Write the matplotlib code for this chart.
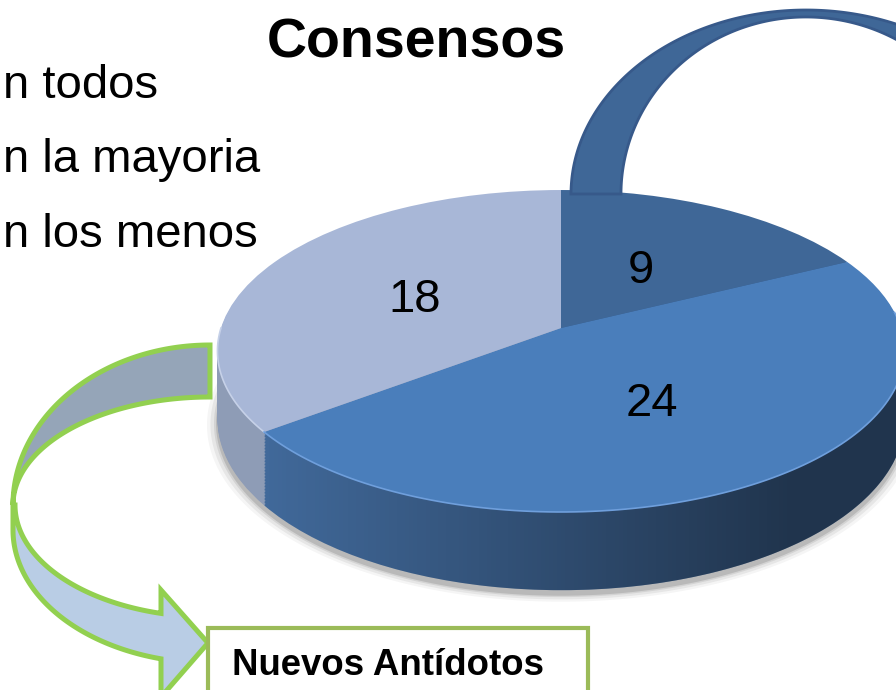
import numpy as np
import matplotlib
matplotlib.use("Agg")
import matplotlib.pyplot as plt
from matplotlib.patches import Polygon, Rectangle
from matplotlib.transforms import Transform

plt.rcParams['font.family'] = ['Liberation Sans', 'DejaVu Sans']

# ---------------- data ----------------
values = [9, 24, 18]
value_labels = ["9", "24", "18"]
top_colors = ["#3f6797", "#4a7ebb", "#a8b7d7"]
side_colors = ["#2f4f78", "#41699a", "#8e9cb6"]
title = "Consensos"
bullets = ["n todos", "n la mayoria", "n los menos"]
box_text = "Nuevos Antídotos"

# ---------------- layout ----------------
W, H = 896, 690
# perspective pie geometry (pixels, y downwards)
CX, CY0, A, B, K, D = 561, 328, 340, 157.7, 0.1429, 67


class PerspectivePie(Transform):
    """Maps unit-disk pie coordinates to tilted-disk pixel coordinates."""
    input_dims = 2
    output_dims = 2
    is_separable = False
    has_inverse = False

    def __init__(self, dz=0.0, scale=1.0):
        super().__init__()
        self.dz = dz
        self.scale = scale

    def transform_non_affine(self, values):
        values = np.asarray(values, dtype=float)
        u = values[..., 0] * self.scale
        v = values[..., 1] * self.scale
        den = 1 + K * v
        X = CX + A * u / den
        Y = CY0 - B * v / den + self.dz / den
        return np.stack([X, Y], axis=-1)


fig = plt.figure(figsize=(W / 100, H / 100), dpi=100)
pax = fig.add_axes([0, 0, 1, 1])
pax.set_zorder(1)

# soft shadow under the pie
tt = np.linspace(0, 2 * np.pi, 400)
circ = np.column_stack([np.cos(tt), np.sin(tt)])
for s, a in [(1.03, 0.04), (1.02, 0.06), (1.01, 0.08), (1.004, 0.12)]:
    pts = PerspectivePie(D + 4, s).transform_non_affine(circ)
    pax.add_patch(Polygon(pts, closed=True, facecolor="black", edgecolor="none",
                          alpha=a, zorder=1, transform=pax.transData))

# side of the pie: stacked pies pushed downwards
N = 50
for k in range(N, 0, -1):
    wedges, _ = pax.pie(values, colors=side_colors, startangle=90, counterclock=False,
                        radius=1, wedgeprops=dict(linewidth=0))
    tr = PerspectivePie(D * k / N) + pax.transData
    for w in wedges:
        w.set_transform(tr)
        w.set_zorder(2)

# gradient darkening across the side wall
t = np.linspace(np.pi, 2 * np.pi, 300)
rim = np.column_stack([np.cos(t), np.sin(t)])
top_rim = PerspectivePie(0).transform_non_affine(rim)
bot_rim = PerspectivePie(D).transform_non_affine(rim)
band = np.vstack([top_rim, bot_rim[::-1]])
band_poly = Polygon(band, closed=True, transform=pax.transData)
xs = np.linspace(0, W, 600)
alpha = np.clip((xs - 265) / (790 - 265), 0, 1) * 0.5
grad = np.zeros((1, xs.size, 4))
grad[..., 3] = alpha
im = pax.imshow(grad, extent=[0, W, H, 0], aspect='auto', zorder=3,
                interpolation='bilinear')
im.set_clip_path(band_poly)

# top face
wedges, _ = pax.pie(values, colors=top_colors, startangle=90, counterclock=False,
                    radius=1, wedgeprops=dict(linewidth=0))
for w in wedges:
    w.set_transform(PerspectivePie(0) + pax.transData)
    w.set_zorder(4)

# bevel highlight along the front rim
bnd = np.deg2rad(90 - 360 * (values[0] + values[1]) / sum(values) + 360)
for t0, t1, col in [(np.pi, bnd, "#c6d1e8"), (bnd, 2 * np.pi + 0.1, "#6f9fdc")]:
    tl = np.linspace(t0, t1, 120)
    p = PerspectivePie(0).transform_non_affine(np.column_stack([np.cos(tl), np.sin(tl)]))
    pax.plot(p[:, 0], p[:, 1], color=col, lw=1.2, zorder=5)

pax.set_aspect('auto')
pax.set_xlim(0, W)
pax.set_ylim(H, 0)
pax.axis('off')

# overlay axes in pixel coordinates
ax = fig.add_axes([0, 0, 1, 1])
ax.set_zorder(2)
ax.set_xlim(0, W)
ax.set_ylim(H, 0)
ax.axis('off')
ax.patch.set_alpha(0)

# blue curved arrow (top right)
ocx, ocy, orx, ory = 806, 194, 235, 184
icx, icy, irx, iry = 806, 194, 185, 177
to = np.linspace(np.pi, np.deg2rad(60), 150)
ti = np.linspace(np.deg2rad(55), np.pi, 150)
outer = np.column_stack([ocx + orx * np.cos(to), ocy - ory * np.sin(to)])
inner = np.column_stack([icx + irx * np.cos(ti), icy - iry * np.sin(ti)])
ax.add_patch(Polygon(np.vstack([outer, inner]), closed=True, facecolor="#3f6797",
                     edgecolor="#37598a", lw=2, zorder=3))

# green curved arrow (left)
gcx, gcy = 210, 505
t_up_o = np.linspace(np.pi / 2, np.pi, 120)
t_up_i = np.linspace(np.pi, np.pi / 2, 120)
up_outer = np.column_stack([gcx + 197 * np.cos(t_up_o), gcy - 160 * np.sin(t_up_o)])
up_inner = np.column_stack([gcx + 197 * np.cos(t_up_i), gcy - 108 * np.sin(t_up_i)])
ax.add_patch(Polygon(np.vstack([up_outer, up_inner]), closed=True, facecolor="#95a5b8",
                     edgecolor="#92d050", lw=3.6, joinstyle='miter', zorder=3))

end_o = np.arccos((161 - gcx) / 197)
t_lo_o = np.linspace(np.pi, end_o, 120)
lo_outer = np.column_stack([gcx + 197 * np.cos(t_lo_o), 530 + 133 * np.sin(t_lo_o)])
end_i = np.arccos((161 - gcx) / 195)
t_lo_i = np.linspace(end_i, np.pi, 120)
lo_inner = np.column_stack([gcx + 195 * np.cos(t_lo_i), gcy + 112 * np.sin(t_lo_i)])
head = np.array([[161, 697], [208, 643], [161, 590]])
lower = np.vstack([[[13, 505]], lo_outer, head, lo_inner])
ax.add_patch(Polygon(lower, closed=True, facecolor="#b9cde5", edgecolor="#92d050",
                     lw=3.6, joinstyle='miter', zorder=3))

# box
ax.add_patch(Rectangle((208, 628), 380, 80, facecolor="white", edgecolor="#9bbb59",
                       lw=3, zorder=4))
ax.text(232, 675, box_text, fontsize=26.4, fontweight='bold', ha='left', va='baseline',
        zorder=5)

# title and bullets
ax.text(416, 58, title, fontsize=40, fontweight='bold', ha='center', va='baseline')
for txt, yb in zip(bullets, [98, 172, 247]):
    ax.text(3, yb, txt, fontsize=34, ha='left', va='baseline')

# value labels
for txt, (lx, ly) in zip(value_labels, [(641, 283), (652, 416), (415, 312)]):
    ax.text(lx, ly, txt, fontsize=34, ha='center', va='baseline', zorder=6)

fig.savefig("out.png", dpi=100)
